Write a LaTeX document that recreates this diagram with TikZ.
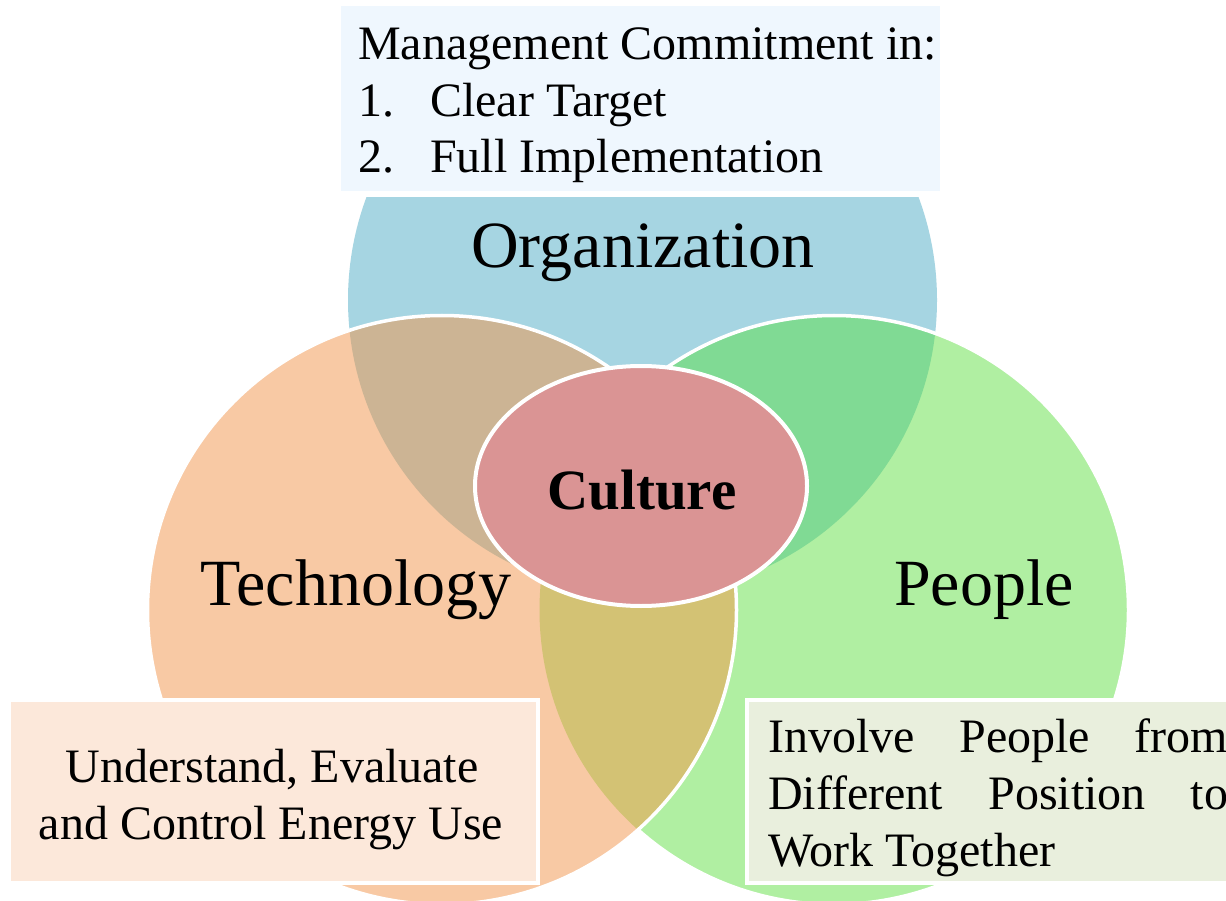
\documentclass[tikz,border=0pt]{standalone}
\usepackage{fontspec}
\setmainfont{Liberation Serif}
\definecolor{orgblue}{HTML}{A6D5E2}
\definecolor{techpeach}{HTML}{F8C9A4}
\definecolor{peoplegreen}{HTML}{B0EFA2}
\definecolor{orgtech}{HTML}{CCB494}
\definecolor{orgpeople}{HTML}{80DA94}
\definecolor{techpeople}{HTML}{D3C274}
\definecolor{allthree}{HTML}{B9B27E}
\definecolor{culturered}{HTML}{DA9494}
\definecolor{topboxfill}{HTML}{EFF7FE}
\definecolor{leftboxfill}{HTML}{FCE8DA}
\definecolor{rightboxfill}{HTML}{E9EFDD}
\tikzset{
  ring edge/.style={draw=white, line width=3.5pt},
  big label/.style={font=\fontsize{66}{72}\selectfont, anchor=base, inner sep=0pt},
  box line/.style={font=\fontsize{48}{57}\selectfont, anchor=base west, inner sep=0pt},
  box centre line/.style={font=\fontsize{48}{57}\selectfont, anchor=base, inner sep=0pt},
  note box/.style={line width=4pt, draw=white, inner sep=0pt},
}
\begin{document}
\begin{tikzpicture}[x=1pt,y=-1pt]
\useasboundingbox (0,0) rectangle (1226,901);
\clip (0,0) rectangle (1226,901);
\fill[white] (0,0) rectangle (1226,901);

% circle centres
\coordinate (cO) at (642.5,300);
\coordinate (cT) at (442,610);
\coordinate (cP) at (834,610);
\def\rr{294.5pt}

% Organization circle
\fill[orgblue] (cO) circle[radius=\rr];

% People circle and its overlap with Organization
\fill[peoplegreen] (cP) circle[radius=\rr];
\begin{scope}
  \clip (cP) circle[radius=\rr];
  \fill[orgpeople] (cO) circle[radius=\rr];
\end{scope}
\draw[ring edge] (cP) circle[radius=\rr];

% Technology circle and its overlaps
\fill[techpeach] (cT) circle[radius=\rr];
\begin{scope}
  \clip (cT) circle[radius=\rr];
  \fill[orgtech] (cO) circle[radius=\rr];
  \fill[techpeople] (cP) circle[radius=\rr];
  \clip (cP) circle[radius=\rr];
  \fill[allthree] (cO) circle[radius=\rr];
\end{scope}
\draw[ring edge] (cT) circle[radius=\rr];

% Culture in the middle
\fill[culturered, draw=white, line width=4pt] (641,486) ellipse[x radius=166pt, y radius=120pt];
\node[font=\fontsize{57}{62}\selectfont\bfseries, anchor=base, inner sep=0pt] (culture) at (642,509) {Culture};

% circle labels
\node[big label] (org) at (643,268) {Organization};
\node[big label] (tech) at (356,605) {Technology};
\node[big label] (people) at (984,605) {People};

% Organization note
\path[fill=topboxfill, draw=white, line width=6pt] (338,3) rectangle (943,194);
\node[box line] (mgmt) at (358,60) {Management Commitment in:};
\node[box line] (n1) at (358,117) {1.};
\node[box line] (t1) at (430,117) {Clear Target};
\node[box line] (n2) at (358,173) {2.};
\node[box line] (t2) at (430,173) {Full Implementation};

% Technology note
\node[note box, fill=leftboxfill, minimum width=529pt, minimum height=183pt] (techbox) at (273.5,791.5) {};
\node[box centre line] (tl1) at (272,782) {Understand, Evaluate};
\node[box centre line] (tl2) at (271,839) {and Control Energy Use};

% People note
\node[note box, fill=rightboxfill, minimum width=500pt, minimum height=183pt] (peoplebox) at (997,791.5) {};
\node[box line] (pl1) at (768,752) {\makebox[460pt][s]{Involve People from}};
\node[box line] (pl2) at (768,809) {\makebox[460pt][s]{Different Position to}};
\node[box line] (pl3) at (768,866) {Work Together};
\end{tikzpicture}
\end{document}
